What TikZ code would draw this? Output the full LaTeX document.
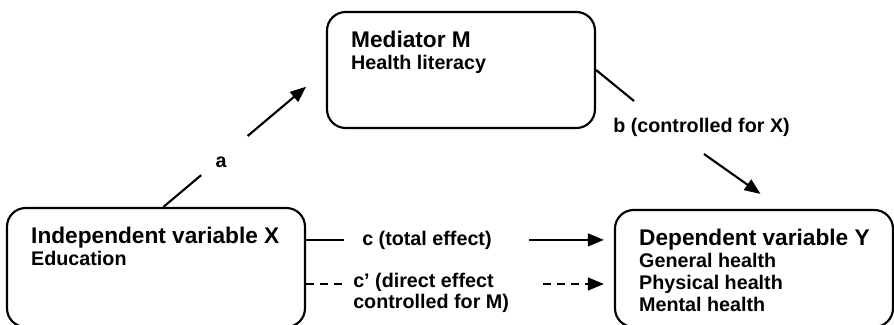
\documentclass[tikz,border=0pt]{standalone}
\usepackage{fontspec}
\setmainfont{Liberation Sans}
\usetikzlibrary{calc,arrows.meta}

\begin{document}
\begin{tikzpicture}[x=.75pt,y=-.75pt,
  box/.style={draw,line width=1.6pt,rounded corners=14pt,inner sep=0pt},
  boxtxt/.style={anchor=north west,align=left,inner sep=0pt,font=\bfseries\fontsize{14.8}{16.5}\selectfont},
  lab/.style={inner sep=0pt,font=\bfseries\fontsize{14.8}{15.5}\selectfont},
  link/.style={line width=1.6pt},
  arr/.style={link,-{Triangle[length=12pt,width=9.5pt]}},
  dashy/.style={dash pattern=on 6pt off 4.5pt}]
\useasboundingbox (0,0) rectangle (894,325);
% the three boxes
\node[box,minimum width=223.5pt,minimum height=89.25pt] (X) at (156,267.5) {};
\node[box,minimum width=201pt,minimum height=87pt] (M) at (461,70) {};
\node[box,minimum width=208.5pt,minimum height=87.75pt] (Y) at (754,268.5) {};
\node[boxtxt] (Xt) at ($(X.north west)+(25,19.5)$) {{\fontsize{17}{16.5}\selectfont Independent variable X}\\Education};
\node[boxtxt] (Mt) at ($(M.north west)+(25,19.5)$) {{\fontsize{17}{16.5}\selectfont Mediator M}\\Health literacy};
\node[boxtxt] (Yt) at ($(Y.north west)+(25,19.5)$) {{\fontsize{17}{16.5}\selectfont Dependent variable Y}\\General health\\Physical health\\Mental health};
% path a
\node[lab] (a) at (221,162) {a};
\draw[link] (X.83) -- ($(X.83)!.232!(M.west)$);
\draw[arr] ($(X.83)!.518!(M.west)$) -- ($(X.83)!.878!(M.west)$);
% path b
\node[lab,anchor=base west] (b) at (613,132) {b (controlled for X)};
\coordinate (b1) at ($(M.east)+(38,31)$);
\coordinate (b2) at (704,154);
\draw[link] (M.east) -- (b1);
\draw[arr] (b2) -- ($(b2)!.727!(Y.65)$);
% paths c and c'
\node[lab,anchor=base west] (c) at (362,245) {c (total effect)};
\coordinate (c1) at ($(X.east |- c)+(38,0)$);
\coordinate (c2) at ($(c.east)+(37,0)$);
\draw[link] (X.east |- c) -- (c1);
\draw[arr,shorten >=7.5pt] (c2) -- (Y.west |- c);
\node[lab,anchor=north west,align=left] (cp) at (353,273) {c’ (direct effect\\controlled for M)};
\coordinate (d0) at ($(X.east)+(0,16.5)$);
\coordinate (d1) at ($(d0)+(38,0)$);
\coordinate (d2) at (543,284);
\draw[link,dashy] (d0) -- (d1);
\draw[arr,dashy,shorten >=7.5pt] (d2) -- (Y.west |- d2);
\end{tikzpicture}
\end{document}
